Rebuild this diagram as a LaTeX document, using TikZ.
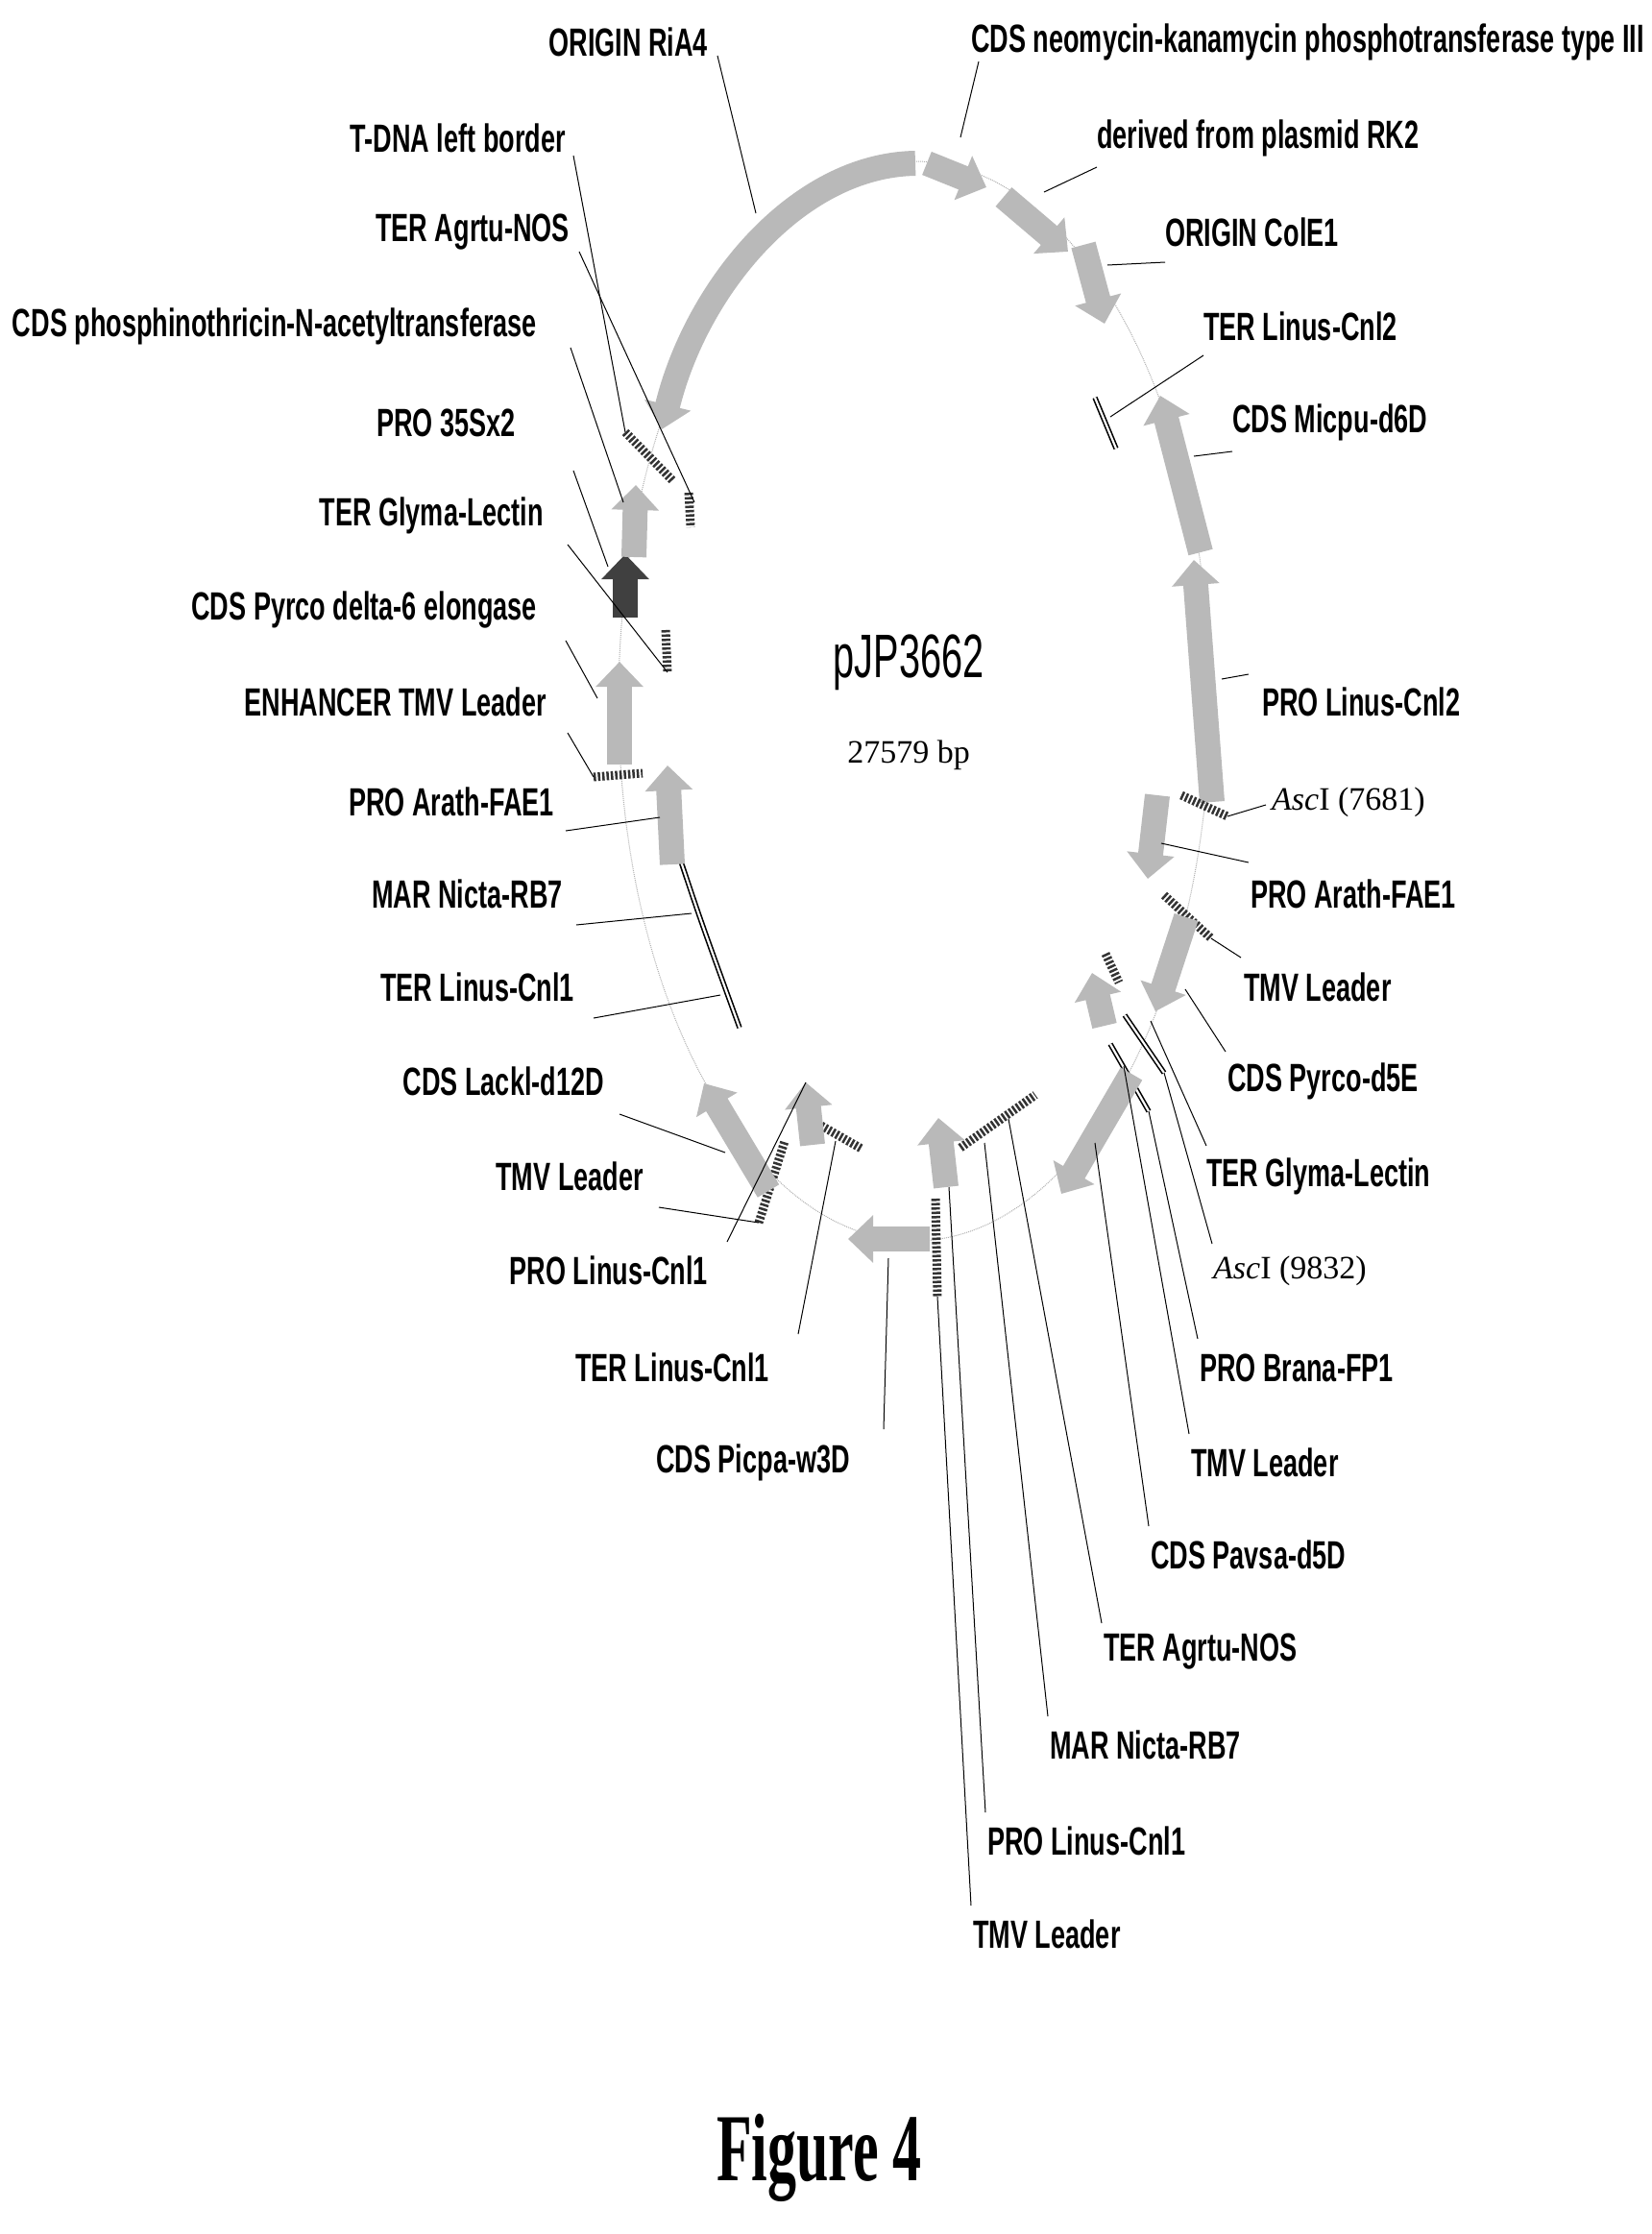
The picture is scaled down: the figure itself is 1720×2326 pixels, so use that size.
\documentclass[tikz,border=0pt]{standalone}
\usepackage{fontspec}
\usetikzlibrary{arrows.meta}
\newfontfamily\lblfont{Liberation Sans Bold}[FakeStretch=0.66]
\newfontfamily\serfont{Liberation Serif}
\newfontfamily\titfont{Liberation Sans}[FakeStretch=0.62]
\newfontfamily\figfont{Liberation Serif Bold}[FakeStretch=0.6]
\tikzset{
 lbl/.style={font=\lblfont\fontsize{41}{48}\selectfont, inner sep=0pt},
 lft/.style={lbl, anchor=east},
 rgt/.style={lbl, anchor=west},
 feat/.style={line width=26pt, draw=gray!55, -{Triangle[width=48pt,length=26pt]}},
 darkfeat/.style={feat, draw=black!75},
 hatch/.style={line width=9pt, draw=black!80, dash pattern=on 2.5pt off 2pt},
 dbl/.style={line width=1.6pt, double distance=2.2pt, draw=black},
 lead/.style={line width=1pt, draw=black},
 bb/.style={line width=1pt, draw=gray!60, densely dotted}
}
\begin{document}
\begin{tikzpicture}[x=1pt,y=-1pt]
\useasboundingbox (0,0) rectangle (1720,2326);
\fill[white] (0,0) rectangle (1720,2326);
% backbone
\draw[bb] (952,730) ellipse [x radius=308, y radius=562];
% features
\coordinate (f1s) at (953,170); \coordinate (f1e) at (689,447);
\draw[feat] (f1s) .. controls (830,172) and (725,300) .. (f1e);
\coordinate (f2s) at (965,170); \coordinate (f2e) at (1027,195); \draw[feat] (f2s) -- (f2e);
\coordinate (f3s) at (1045,205); \coordinate (f3e) at (1112,262); \draw[feat] (f3s) -- (f3e);
\coordinate (f4s) at (1128,255); \coordinate (f4e) at (1150,337); \draw[feat] (f4s) -- (f4e);
\coordinate (h5a) at (1140,414); \coordinate (h5b) at (1162,467); \draw[dbl] (h5a) -- (h5b);
\coordinate (f6s) at (1250,575); \coordinate (f6e) at (1208,412); \draw[feat] (f6s) -- (f6e);
\coordinate (f7s) at (1262,835); \coordinate (f7e) at (1243,583); \draw[feat] (f7s) -- (f7e);
\coordinate (h1a) at (1230,828); \coordinate (h1b) at (1278,850); \draw[hatch] (h1a) -- (h1b);
\coordinate (f8s) at (1205,828); \coordinate (f8e) at (1195,915); \draw[feat] (f8s) -- (f8e);
\coordinate (h2a) at (1212,932); \coordinate (h2b) at (1261,977); \draw[hatch] (h2a) -- (h2b);
\coordinate (f9s) at (1235,955); \coordinate (f9e) at (1203,1053); \draw[feat] (f9s) -- (f9e);
\coordinate (h3a) at (1151,993); \coordinate (h3b) at (1165,1023); \draw[hatch] (h3a) -- (h3b);
\coordinate (f10s) at (1150,1068); \coordinate (f10e) at (1137,1013); \draw[feat] (f10s) -- (f10e);
\coordinate (h4a) at (1171,1057); \coordinate (h4b) at (1212,1117); \draw[dbl] (h4a) -- (h4b);
\coordinate (h5c) at (1156,1087); \coordinate (h5d) at (1196,1157); \draw[dbl] (h5c) -- (h5d);
\coordinate (f11s) at (1178,1118); \coordinate (f11e) at (1105,1243); \draw[feat] (f11s) -- (f11e);
\coordinate (h6a) at (1000,1195); \coordinate (h6b) at (1078,1140); \draw[hatch] (h6a) -- (h6b);
\coordinate (f12s) at (985,1236); \coordinate (f12e) at (977,1164); \draw[feat] (f12s) -- (f12e);
\coordinate (h7a) at (974,1248); \coordinate (h7b) at (976,1350); \draw[hatch] (h7a) -- (h7b);
\coordinate (f13s) at (968,1290); \coordinate (f13e) at (883,1290); \draw[feat] (f13s) -- (f13e);
\coordinate (h8a) at (855,1172); \coordinate (h8b) at (897,1196); \draw[hatch] (h8a) -- (h8b);
\coordinate (f14s) at (846,1192); \coordinate (f14e) at (839,1127); \draw[feat] (f14s) -- (f14e);
\coordinate (h9a) at (790,1273); \coordinate (h9b) at (817,1188); \draw[hatch] (h9a) -- (h9b);
\coordinate (f15s) at (800,1240); \coordinate (f15e) at (733,1128); \draw[feat] (f15s) -- (f15e);
\coordinate (m1a) at (707,891); \coordinate (m1b) at (770,1070); \draw[dbl] (m1a) .. controls (730,960) .. (m1b);
\coordinate (f16s) at (700,900); \coordinate (f16e) at (695,797); \draw[feat] (f16s) -- (f16e);
\coordinate (h10a) at (618,809); \coordinate (h10b) at (669,805); \draw[hatch] (h10a) -- (h10b);
\coordinate (f17s) at (645,796); \coordinate (f17e) at (645,689); \draw[feat] (f17s) -- (f17e);
\coordinate (h11a) at (693,656); \coordinate (h11b) at (695,700); \draw[hatch] (h11a) -- (h11b);
\coordinate (f18s) at (651,643); \coordinate (f18e) at (651,577); \draw[darkfeat] (f18s) -- (f18e);
\coordinate (f19s) at (660,580); \coordinate (f19e) at (662,505); \draw[feat] (f19s) -- (f19e);
\coordinate (h12a) at (717,513); \coordinate (h12b) at (719,549); \draw[hatch] (h12a) -- (h12b);
\coordinate (h13a) at (651,450); \coordinate (h13b) at (700,500); \draw[hatch] (h13a) -- (h13b);
% centre
\node[font=\titfont\fontsize{64}{70}\selectfont] (name) at (946,690) {pJP3662};
\node[font=\serfont\fontsize{34}{40}\selectfont] (size) at (946,786) {27579 bp};
% left labels
\node[lft] (L1) at (737,44) {ORIGIN RiA4};
\node[lft] (L2) at (589,144) {T-DNA left border};
\node[lft] (L3) at (593,242) {TER Agrtu-NOS};
\node[lft] (L4) at (559,340) {CDS phosphinothricin-N-acetyltransferase};
\node[lft] (L5) at (537,440) {PRO 35Sx2};
\node[lft] (L6) at (566,537) {TER Glyma-Lectin};
\node[lft] (L7) at (559,635) {CDS Pyrco delta-6 elongase};
\node[lft] (L8) at (569,731) {ENHANCER TMV Leader};
\node[lft] (L9) at (577,835) {PRO Arath-FAE1};
\node[lft] (L10) at (586,931) {MAR Nicta-RB7};
\node[lft] (L11) at (598,1028) {TER Linus-Cnl1};
\node[lft] (L12) at (629,1126) {CDS Lackl-d12D};
\node[lft] (L13) at (670,1225) {TMV Leader};
\node[lft] (L14) at (737,1323) {PRO Linus-Cnl1};
\node[lft] (L15) at (801,1424) {TER Linus-Cnl1};
\node[lft] (L16) at (885,1523) {CDS Picpa-w3D};
% right labels
\node[rgt] (R1) at (1011,44) {CDS neomycin-kanamycin phosphotransferase type III};
\node[rgt] (R2) at (1142,144) {derived from plasmid RK2};
\node[rgt] (R3) at (1213,242) {ORIGIN ColE1};
\node[rgt] (R4) at (1253,340) {TER Linus-Cnl2};
\node[rgt] (R5) at (1283,440) {CDS Micpu-d6D};
\node[rgt] (R6) at (1314,731) {PRO Linus-Cnl2};
\node[anchor=west, inner sep=0pt, font=\serfont\fontsize{34}{40}\selectfont] (R7) at (1324,835) {\textit{Asc}I (7681)};
\node[rgt] (R8) at (1302,931) {PRO Arath-FAE1};
\node[rgt] (R9) at (1295,1028) {TMV Leader};
\node[rgt] (R10) at (1278,1126) {CDS Pyrco-d5E};
\node[rgt] (R11) at (1256,1225) {TER Glyma-Lectin};
\node[anchor=west, inner sep=0pt, font=\serfont\fontsize{34}{40}\selectfont] (R12) at (1263,1323) {\textit{Asc}I (9832)};
\node[rgt] (R13) at (1249,1424) {PRO Brana-FP1};
\node[rgt] (R14) at (1240,1523) {TMV Leader};
\node[rgt] (R15) at (1198,1619) {CDS Pavsa-d5D};
\node[rgt] (R16) at (1149,1720) {TER Agrtu-NOS};
\node[rgt] (R17) at (1093,1817) {MAR Nicta-RB7};
\node[rgt] (R18) at (1028,1917) {PRO Linus-Cnl1};
\node[rgt] (R19) at (1013,2014) {TMV Leader};
\node[font=\figfont\fontsize{100}{110}\selectfont] (fig) at (853,2247) {Figure 4};
% leaders left
\draw[lead] ([xshift=10pt,yshift=-14pt]L1.east) -- (787,222);
\draw[lead] ([xshift=8pt,yshift=-18pt]L2.east) -- (h13a);
\draw[lead] ([xshift=10pt,yshift=-20pt]L3.east) -- (723,523);
\draw[lead] ([xshift=35pt,yshift=-22pt]L4.east) -- (649,523);
\draw[lead] ([xshift=60pt,yshift=-50pt]L5.east) -- (633,590);
\draw[lead] ([xshift=25pt,yshift=-30pt]L6.east) -- (h11b);
\draw[lead] ([xshift=30pt,yshift=-32pt]L7.east) -- (622,727);
\draw[lead] ([xshift=22pt,yshift=-32pt]L8.east) -- (h10a);
\draw[lead] ([xshift=12pt,yshift=-30pt]L9.east) -- (687,851);
\draw[lead] ([xshift=14pt,yshift=-32pt]L10.east) -- (720,951);
\draw[lead] ([xshift=20pt,yshift=-32pt]L11.east) -- (750,1036);
\draw[lead] ([xshift=16pt,yshift=-34pt]L12.east) -- (755,1200);
\draw[lead] ([xshift=16pt,yshift=-32pt]L13.east) -- (h9a);
\draw[lead] ([xshift=20pt,yshift=30pt]L14.east) -- (f14e);
\draw[lead] ([xshift=30pt,yshift=35pt]L15.east) -- (870,1188);
\draw[lead] ([xshift=35pt,yshift=35pt]L16.east) -- (925,1310);
% leaders right
\draw[lead] ([xshift=8pt,yshift=-20pt]R1.west) -- (1000,143);
\draw[lead] ([yshift=-30pt]R2.west) -- (1087,200);
\draw[lead] ([yshift=-31pt]R3.west) -- (1153,276);
\draw[lead] ([yshift=-30pt]R4.west) -- (1156,434);
\draw[lead] ([yshift=-30pt]R5.west) -- (1243,475);
\draw[lead] ([xshift=-14pt,yshift=29pt]R6.west) -- (1272,707);
\draw[lead] ([xshift=-6pt,yshift=-3pt]R7.west) -- (h1b);
\draw[lead] ([xshift=-2pt,yshift=33pt]R8.west) -- (1209,878);
\draw[lead] ([xshift=-3pt,yshift=31pt]R9.west) -- (h2b);
\draw[lead] ([xshift=-2pt,yshift=31pt]R10.west) -- (1234,1030);
\draw[lead] ([xshift=0pt,yshift=32pt]R11.west) -- (1198,1063);
\draw[lead] ([xshift=-1pt,yshift=28pt]R12.west) -- (h4b);
\draw[lead] ([xshift=-2pt,yshift=30pt]R13.west) -- (h5d);
\draw[lead] ([xshift=-2pt,yshift=30pt]R14.west) -- (1170,1110);
\draw[lead] ([xshift=-2pt,yshift=30pt]R15.west) -- (1140,1190);
\draw[lead] ([xshift=-2pt,yshift=30pt]R16.west) -- (1050,1165);
\draw[lead] ([xshift=-2pt,yshift=30pt]R17.west) -- (1025,1190);
\draw[lead] ([xshift=-2pt,yshift=30pt]R18.west) -- (988,1236);
\draw[lead] ([xshift=-2pt,yshift=30pt]R19.west) -- (h7b);
\end{tikzpicture}
\end{document}
